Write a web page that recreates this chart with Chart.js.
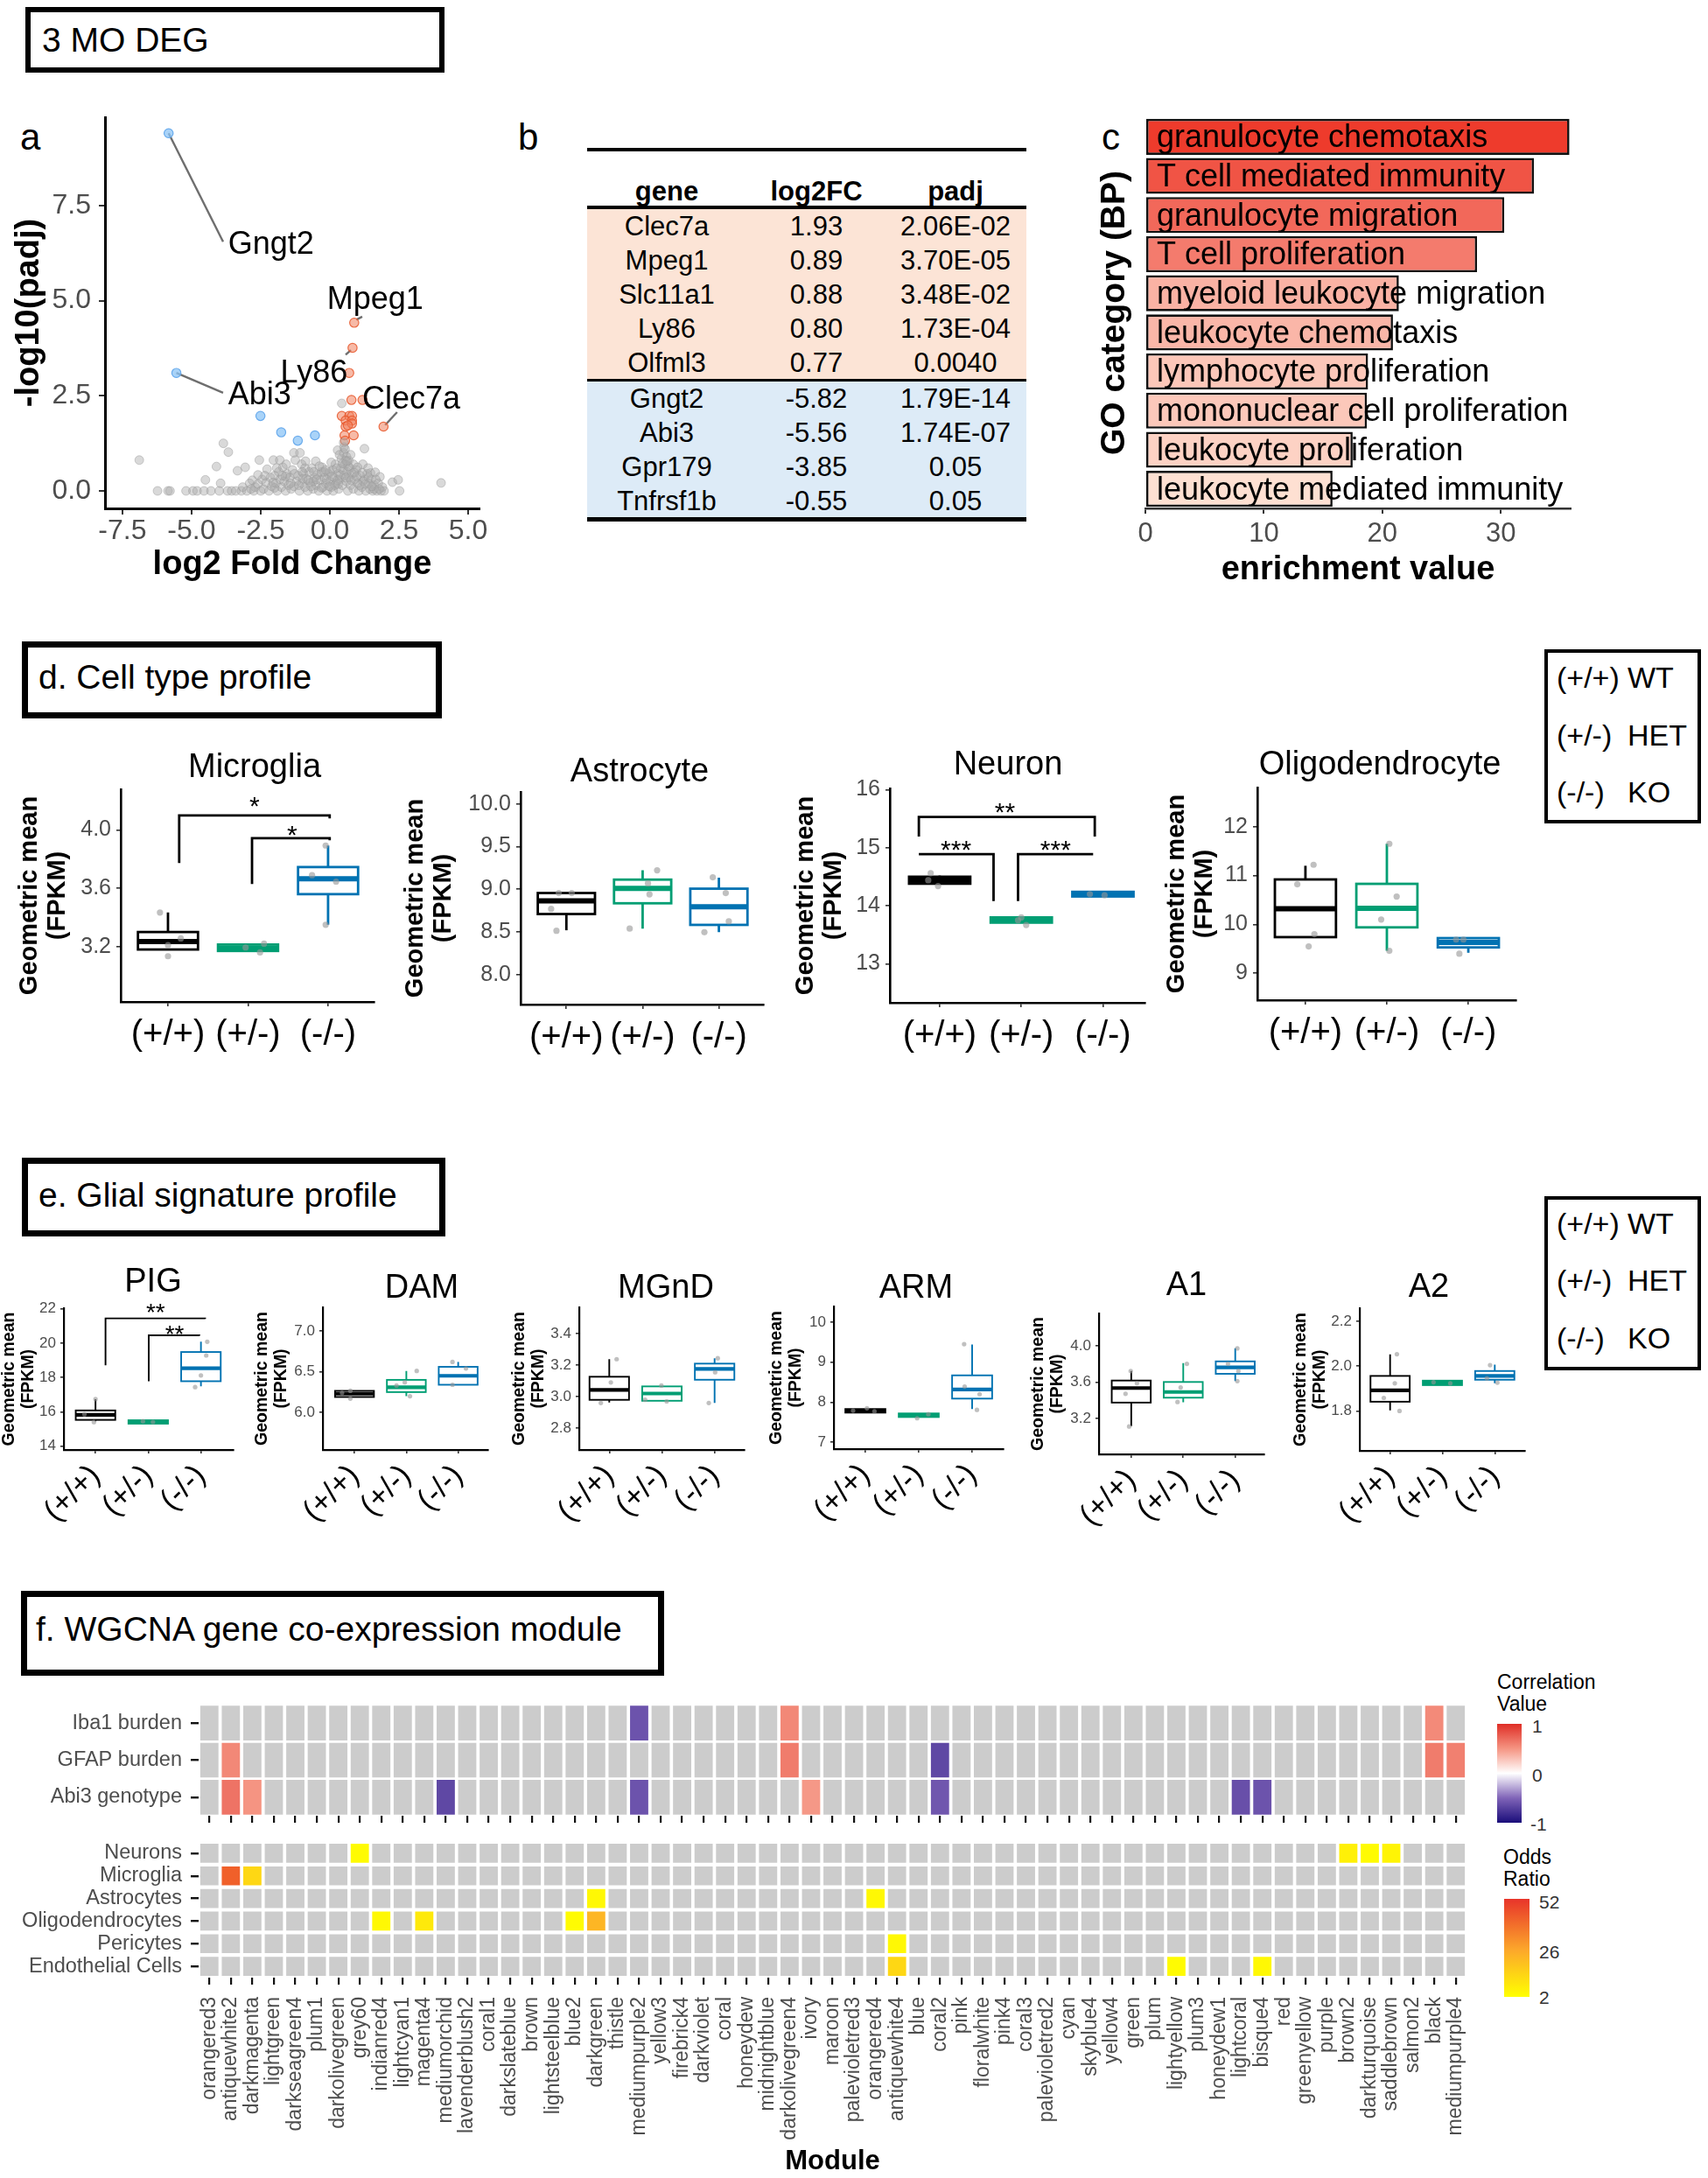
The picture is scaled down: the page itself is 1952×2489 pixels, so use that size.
<!DOCTYPE html>
<html>
<head>
<meta charset="utf-8">
<title>3 MO DEG</title>
<script src="https://cdn.jsdelivr.net/npm/chart.js@4.4.1/dist/chart.umd.min.js"></script>
<style>
  html, body { margin: 0; padding: 0; background: #fff; }
  body { position: relative; width: 1952px; height: 2489px; overflow: hidden; font-family: "Liberation Sans", Arial, sans-serif; color: #000; }
  .t { position: absolute; white-space: nowrap; line-height: 1; }
  .frame { position: absolute; box-sizing: border-box; border: 7px solid #000; }
  .blk { position: absolute; }
  canvas { position: absolute; }
</style>
</head>
<body>
<script>
// ---------------- data ----------------
// panel a: volcano (log2FC, -log10 padj)
const volcanoGray = [
  [-6.89,0.81],[-6.23,0],[-5.85,0],[-5.78,0],[-5.2,0],[-4.95,0],[-4.8,0],[-4.55,0],[-4.5,0.29],[-4.3,0],
  [-4.1,0.64],[-4.0,0],[-3.95,0.2],[-3.85,1.25],[-3.7,0],[-3.67,1.02],[-3.55,0],[-3.4,0],[-3.34,0.53],[-3.2,0],
  [-3.15,0.1],[-3.06,0.62],[-3.0,0],[-2.9,0.2],[-2.8,0.28],[-2.75,0],[-2.7,0.1],[-2.6,0.18],[-2.55,0.81],[-2.5,0],
  [-2.45,0.3],[-2.4,0.05],[-2.3,0.22],[-2.27,0.57],[-2.2,0],[-2.15,0.35],[-2.1,0.12],[-2.04,0.81],[-2.0,0.4],[-1.95,0.2],
  [-1.9,0],[-1.85,0.5],[-1.81,0.81],[-1.8,0.3],[-1.75,0.1],[-1.7,0.62],[-1.65,0.25],[-1.6,0],[-1.55,0.45],[-1.5,0.15],
  [-1.45,0.35],[-1.4,0.05],[-1.35,0.55],[-1.3,1.0],[-1.25,0.81],[-1.2,0.25],[-1.15,0.4],[-1.1,0],[-1.08,1.0],[-1.02,0.7],
  [-1.0,0.2],[-0.95,0.45],[-0.9,0.1],[-0.85,0.32],[-0.8,0],[-0.75,0.5],[-0.7,0.22],[-0.65,0.6],[-0.6,0.05],[-0.55,0.35],
  [-0.51,0.78],[-0.5,0.15],[-0.45,0.42],[-0.4,0],[-0.35,0.28],[-0.3,0.5],[-0.28,0.62],[-0.25,0.1],[-0.2,0.35],[-0.15,0.2],
  [-0.1,0],[-0.05,0.45],[0,0.25],[0.05,0.1],[0.1,0.55],[0.12,0],[0.15,0.35],[0.2,0.7],[0.22,0.2],[0.28,1.07],
  [0.3,0.45],[0.32,0.05],[0.35,0.3],[0.4,0.6],[0.42,0.85],[0.45,0.15],[0.5,1.0],[0.51,1.15],[0.52,0.4],[0.55,0.7],
  [0.57,0.8],[0.6,0.25],[0.62,0.5],[0.65,0],[0.68,0.8],[0.7,0.35],[0.72,0.6],[0.75,0.15],[0.8,0.45],[0.85,0.05],
  [0.9,0.3],[0.95,0.55],[1.0,0.2],[1.05,0],[1.1,0.4],[1.15,0.1],[1.19,0.7],[1.25,1.11],[1.25,0.3],[1.3,0],
  [1.35,0.45],[1.4,0.2],[1.45,0.05],[1.47,0.47],[1.5,0.3],[1.55,0],[1.6,0.15],[1.64,0.49],[1.7,0],[1.75,0.2],
  [1.81,0.37],[1.85,0],[1.9,0.1],[1.96,0],[2.26,0.23],[2.47,0.29],[2.52,0],[4.02,0.21],[0.43,2.3],[0.5,1.27],
  [0.55,1.1],[-1.6,0.38],[-1.3,0.12],[-0.9,0.6],[-0.6,0.25],[-0.3,0.08],[0.0,0.5],[0.25,0.6],[0.6,0.9],[0.75,0.95],
  [0.85,0.7],[1.0,0.62],[1.2,0.25],[1.4,0.35],[1.6,0.05],[-2.6,0.42],[-2.0,0.08],[-1.0,0.5],[0.05,0.75],[0.35,0.95],
  [-2.85,0.05],[-2.35,0.4],[-2.05,0.22],[-1.92,0.6],[-1.72,0.4],[-1.58,0.7],[-1.42,0.2],[-1.28,0.45],[-1.12,0.15],[-0.98,0.32],
  [-0.88,0.78],[-0.78,0.28],[-0.68,0.12],[-0.58,0.5],[-0.48,0.3],[-0.38,0.65],[-0.22,0.5],[-0.12,0.3],[-0.02,0.12],[0.08,0.38],
  [0.18,0.15],[0.27,0.28],[0.38,0.42],[0.48,0.55],[0.58,0.35],[0.66,0.65],[0.77,0.28],[0.88,0.48],[0.97,0.38],[1.08,0.15],
  [1.17,0.48],[1.28,0.18],[1.38,0.6],[1.52,0.12],[1.66,0.3],[1.78,0.05],[0.46,0.72],[0.62,0.78],[0.3,0.18],[-0.15,0.55]
];
const volcanoBlue = [[-5.83,9.40],[-5.55,3.10],[-2.51,1.97],[-1.76,1.54],[-1.16,1.32],[-0.54,1.46]];
const volcanoRed = [[0.88,4.42],[0.82,3.76],[0.70,3.10],[0.78,2.39],[1.18,2.39],[0.43,1.97],[0.70,1.97],[0.80,1.97],
  [0.57,1.85],[0.80,1.85],[0.57,1.69],[0.80,1.77],[0.53,1.46],[0.86,1.46],[0.55,1.32],[1.94,1.69],[0.65,1.72]];
const volcanoLabels = ['Gngt2', 'Abi3', 'Mpeg1', 'Ly86', 'Clec7a'];
const volcanoLabelAt = [[-3.68,6.45], [-3.68,2.50], [1.64,5.02], [-0.57,3.08], [2.94,2.38]];
const volcanoLeaders = [
  [[-5.83,9.40],[-3.86,6.55]], [[-5.55,3.10],[-3.86,2.58]], [[0.96,4.50],[1.17,4.58]],
  [[0.76,3.70],[0.57,3.58]], [[2.00,1.73],[2.43,2.07]]
];
const volcanoXTicks = [-7.5, -5.0, -2.5, 0.0, 2.5, 5.0];
const volcanoYTicks = [0.0, 2.5, 5.0, 7.5];

// panel b: table
const tableGenes = ['Clec7a','Mpeg1','Slc11a1','Ly86','Olfml3','Gngt2','Abi3','Gpr179','Tnfrsf1b'];
const tableLog2FC = ['1.93','0.89','0.88','0.80','0.77','-5.82','-5.56','-3.85','-0.55'];
const tablePadj = ['2.06E-02','3.70E-05','3.48E-02','1.73E-04','0.0040','1.79E-14','1.74E-07','0.05','0.05'];
const tableUpCount = 5;

// panel c: GO enrichment
const goTerms = ['granulocyte chemotaxis','T cell mediated immunity','granulocyte migration','T cell proliferation',
  'myeloid leukocyte migration','leukocyte chemotaxis','lymphocyte proliferation','mononuclear cell proliferation',
  'leukocyte proliferation','leukocyte mediated immunity'];
const goEnrichment = [35.8, 32.8, 30.3, 28.0, 21.4, 20.9, 18.8, 18.7, 17.5, 15.8];
const goTicks = [0, 10, 20, 30];

// panels d, e: boxplots (three genotypes)
const genotypes = ['(+/+)', '(+/-)', '(-/-)'];
const genotypeNames = ['WT', 'HET', 'KO'];

const microglia = { min:[3.175,3.17,3.35], q1:[3.18,3.17,3.56], med:[3.234,3.19,3.666], q3:[3.30,3.214,3.746], max:[3.434,3.214,3.894],
  pts:[[0.90,3.434],[1.16,3.256],[1.0,3.21],[1.0,3.134],[1.97,3.194],[2.20,3.22],[2.15,3.16],[2.97,3.894],[2.80,3.69],[3.10,3.646],[2.97,3.35]] };
const microgliaTicks = [3.2, 3.6, 4.0];
const microgliaBrackets = [[[1.14,3.774],[1.14,4.10],[3.02,4.10],[3.02,4.08]], [[2.05,3.63],[2.05,3.944],[3.02,3.944],[3.02,3.93]]];
const microgliaStars = [[2.08,4.21,'*'], [2.55,4.01,'*']];

const astrocyte = { min:[8.52,8.538,8.497], q1:[8.71,8.836,8.583], med:[8.863,9.01,8.795], q3:[8.956,9.113,9.007], max:[8.956,9.222,9.137],
  pts:[[0.90,8.956],[1.07,8.956],[0.80,8.77],[0.87,8.514],[2.19,9.222],[2.07,9.07],[2.09,8.94],[1.83,8.54],[2.92,9.14],[3.09,8.956],[3.13,8.624],[2.81,8.497]] };
const astrocyteTicks = [8.0, 8.5, 9.0, 9.5, 10.0];

const neuron = { min:[14.38,13.71,14.16], q1:[14.38,13.71,14.16], med:[14.44,13.75,14.20], q3:[14.50,13.80,14.24], max:[14.52,13.80,14.24],
  pts:[[0.89,14.56],[0.86,14.44],[0.98,14.34],[2.0,13.80],[2.06,13.67],[1.96,13.75],[2.84,14.20],[3.02,14.18]] };
const neuronTicks = [13, 14, 15, 16];
const neuronBrackets = [[[0.745,15.19],[0.745,15.53],[2.90,15.53],[2.90,15.19]], [[0.745,14.89],[1.66,14.89],[1.66,14.08]], [[1.96,14.08],[1.96,14.89],[2.88,14.89]]];
const neuronStars = [[1.80,15.73,'**'], [1.20,15.08,'***'], [2.42,15.08,'***']];

const oligodendrocyte = { min:[9.74,9.46,9.42], q1:[9.74,9.94,9.53], med:[10.32,10.33,9.63], q3:[10.92,10.83,9.72], max:[11.20,11.65,9.72],
  pts:[[1.10,11.22],[0.90,10.82],[1.11,9.80],[1.04,9.55],[2.03,11.65],[2.12,10.57],[1.93,10.10],[2.03,9.46],[2.85,9.69],[2.94,9.69],[2.89,9.40]] };
const oligodendrocyteTicks = [9, 10, 11, 12];

const pig = { min:[15.45,15.31,17.49], q1:[15.53,15.31,17.78], med:[15.82,15.41,18.54], q3:[16.08,15.51,19.48], max:[16.74,15.51,20.08],
  pts:[[0.79,15.86],[0.97,15.40],[1.0,16.74],[1.90,15.45],[2.09,15.41],[3.12,20.08],[3.10,19.28],[3.0,18.12],[2.89,17.44]] };
const pigTicks = [14, 16, 18, 20, 22];
const pigBrackets = [[[1.19,18.71],[1.19,21.44],[3.08,21.44],[3.08,21.40]], [[2.01,17.78],[2.01,20.45],[2.97,20.45],[2.97,20.42]]];
const pigStars = [[2.14,22.12,'**'], [2.50,20.89,'**']];

const dam = { min:[6.19,6.20,6.34], q1:[6.19,6.25,6.34], med:[6.23,6.31,6.45], q3:[6.265,6.40,6.56], max:[6.265,6.51,6.62],
  pts:[[0.76,6.24],[0.92,6.265],[0.92,6.17],[2.2,6.51],[1.97,6.37],[1.81,6.33],[2.07,6.20],[2.89,6.62],[3.15,6.54],[2.89,6.34]] };
const damTicks = [6.0, 6.5, 7.0];

const mgnd = { min:[2.963,2.974,2.96], q1:[2.98,2.974,3.107], med:[3.043,3.02,3.176], q3:[3.126,3.065,3.209], max:[3.237,3.067,3.243],
  pts:[[1.14,3.237],[1.03,3.09],[0.84,2.96],[1.99,3.07],[1.68,2.98],[2.09,2.97],[3.06,3.243],[3.01,3.154],[2.89,2.96]] };
const mgndTicks = [2.8, 3.0, 3.2, 3.4];

const arm = { min:[7.74,7.63,7.83], q1:[7.74,7.63,8.09], med:[7.79,7.68,8.32], q3:[7.83,7.72,8.67], max:[7.83,7.72,9.44],
  pts:[[0.77,7.79],[1.03,7.85],[1.17,7.77],[1.97,7.6],[2.18,7.7],[2.85,9.45],[2.86,8.39],[3.14,8.2],[3.09,7.81]] };
const armTicks = [7, 8, 9, 10];

const a1 = { min:[3.114,3.376,3.61], q1:[3.373,3.427,3.69], med:[3.533,3.49,3.76], q3:[3.616,3.6,3.827], max:[3.72,3.808,3.971],
  pts:[[0.99,3.72],[1.11,3.587],[0.89,3.47],[0.96,3.11],[2.07,3.80],[1.95,3.54],[1.89,3.38],[3.04,3.97],[2.86,3.80],[3.06,3.72],[3.04,3.61]] };
const a1Ticks = [3.2, 3.6, 4.0];

const a2 = { min:[1.802,1.915,1.923], q1:[1.841,1.915,1.939], med:[1.892,1.926,1.956], q3:[1.956,1.935,1.978], max:[2.052,1.935,2.006],
  pts:[[1.13,2.053],[1.09,1.923],[0.88,1.858],[1.18,1.80],[1.83,1.928],[2.15,1.923],[2.91,2.004],[2.85,1.945],[3.05,1.926]] };
const a2Ticks = [1.8, 2.0, 2.2];

// panel f: WGCNA modules
const modules = ['orangered3','antiquewhite2','darkmagenta','lightgreen','darkseagreen4','plum1','darkolivegreen','grey60',
  'indianred4','lightcyan1','magenta4','mediumorchid','lavenderblush2','coral1','darkslateblue','brown','lightsteelblue','blue2',
  'darkgreen','thistle','mediumpurple2','yellow3','firebrick4','darkviolet','coral','honeydew','midnightblue','darkolivegreen4',
  'ivory','maroon','palevioletred3','orangered4','antiquewhite4','blue','coral2','pink','floralwhite','pink4','coral3',
  'palevioletred2','cyan','skyblue4','yellow4','green','plum','lightyellow','plum3','honeydew1','lightcoral','bisque4','red',
  'greenyellow','purple','brown2','darkturquoise','saddlebrown','salmon2','black','mediumpurple4'];
const traitRows = ['Iba1 burden', 'GFAP burden', 'Abi3 genotype'];
const corrIba1 = { mediumpurple2: -0.6, darkolivegreen4: 0.56, black: 0.55 };
const corrGFAP = { antiquewhite2: 0.56, darkolivegreen4: 0.62, coral2: -0.66, black: 0.62, mediumpurple4: 0.6 };
const corrAbi3 = { antiquewhite2: 0.66, darkmagenta: 0.5, mediumorchid: -0.66, mediumpurple2: -0.6, ivory: 0.48,
  coral2: -0.58, lightcoral: -0.62, bisque4: -0.6 };
const cellRows = ['Neurons', 'Microglia', 'Astrocytes', 'Oligodendrocytes', 'Pericytes', 'Endothelial Cells'];
const oddsNeurons = { grey60: 3, brown2: 6, darkturquoise: 3, saddlebrown: 5 };
const oddsMicroglia = { antiquewhite2: 42, darkmagenta: 13 };
const oddsAstrocytes = { darkgreen: 4, orangered4: 4 };
const oddsOligodendrocytes = { indianred4: 4, magenta4: 8, blue2: 3, darkgreen: 22 };
const oddsPericytes = { antiquewhite4: 4 };
const oddsEndothelial = { antiquewhite4: 13, lightyellow: 3, bisque4: 4 };

// ---------------- helpers ----------------
Chart.defaults.animation = false;
Chart.defaults.responsive = false;
Chart.defaults.font.family = '"Liberation Sans", Arial, sans-serif';
Chart.defaults.plugins.legend.display = false;
Chart.defaults.plugins.tooltip.enabled = false;

const genoColors = ['#000000', '#009E73', '#0072B2'];
const GRAY_TXT = '#4D4D4D';

function hex(c) { return [1, 3, 5].map(i => parseInt(c.slice(i, i + 2), 16)); }
function mix(a, b, t) {
  const A = hex(a), B = hex(b);
  return 'rgb(' + A.map((v, i) => Math.round(v + (B[i] - v) * t)).join(',') + ')';
}
function ramp(stops, v) {
  if (v <= stops[0][0]) return mix(stops[0][1], stops[0][1], 0);
  for (let i = 1; i < stops.length; i++) {
    if (v <= stops[i][0]) return mix(stops[i - 1][1], stops[i][1], (v - stops[i - 1][0]) / (stops[i][0] - stops[i - 1][0]));
  }
  return mix(stops[stops.length - 1][1], stops[stops.length - 1][1], 0);
}
const corrStops = [[-1, '#1A0D7A'], [-0.5, '#8064B8'], [0, '#FFFFFF'], [0.5, '#F59482'], [1, '#DF2E26']];
const oddsStops = [[2, '#FFFF00'], [26, '#FCA72B'], [52, '#E8342A']];

function text(str, x, y, size, o = {}) {
  const d = document.createElement('div');
  d.className = 't';
  d.textContent = str;
  const tx = o.anchor === 'center' ? '-50%' : o.anchor === 'right' ? '-100%' : '0';
  d.style.left = x + 'px'; d.style.top = y + 'px';
  d.style.fontSize = size + 'px';
  d.style.fontWeight = o.bold ? 'bold' : 'normal';
  d.style.color = o.color || '#000';
  d.style.transform = `translate(${tx},-50%)`;
  document.body.appendChild(d);
}
function frame(l, t, w, h, bw) {
  const d = document.createElement('div');
  d.className = 'frame';
  d.style.cssText = `left:${l}px;top:${t}px;width:${w}px;height:${h}px;border-width:${bw}px`;
  document.body.appendChild(d);
}
function block(l, t, w, h, bg) {
  const d = document.createElement('div');
  d.className = 'blk';
  d.style.cssText = `left:${l}px;top:${t}px;width:${w}px;height:${h}px;background:${bg}`;
  document.body.appendChild(d);
}
function makeCanvas(area, m) {
  const left = Math.round(area.l - m.l), top = Math.round(area.t - m.t);
  const right = Math.round(area.r + m.r), bottom = Math.round(area.b + m.b);
  const c = document.createElement('canvas');
  c.width = right - left; c.height = bottom - top;
  c.style.left = left + 'px'; c.style.top = top + 'px';
  document.body.appendChild(c);
  return { c, ml: Math.round(area.l) - left, mt: Math.round(area.t) - top, mr: right - Math.round(area.r), mb: bottom - Math.round(area.b) };
}
const fixX = h => s => { s.height = h; s.paddingLeft = 0; s.paddingRight = 0; };
const fixY = w => s => { s.width = w; s.paddingTop = 0; s.paddingBottom = 0; };
const setTicks = vals => s => { s.ticks = vals.map(v => ({ value: v })); };
const pad = k => ({ left: 0, top: k.mt, right: k.mr, bottom: 0 });

// ---------------- headers, frames, legends ----------------
frame(29, 8, 479, 75, 6);
text('3 MO DEG', 48, 45, 39);
text('a', 23, 157, 42);
text('b', 592, 157, 42);
text('c', 1259, 157, 42);

frame(25, 733, 480, 88, 7);
text('d. Cell type profile', 44, 773, 39);
frame(25, 1323, 484, 90, 7);
text('e. Glial signature profile', 44, 1365, 39);
frame(24, 1818, 735, 97, 7);
text('f. WGCNA gene co-expression module', 41, 1861, 39);

function genotypeLegend(top, lines) {
  frame(1765, top, 179, 199, 4);
  genotypes.forEach((g, i) => {
    text(g, 1779, lines[i], 34);
    text(genotypeNames[i], 1860, lines[i], 34);
  });
}
genotypeLegend(742, [774, 840, 905]);
genotypeLegend(1367, [1398, 1463, 1529]);

// ---------------- panel a: volcano ----------------
(function () {
  const k = makeCanvas({ l: 120, r: 548, t: 134, b: 581 }, { l: 109, r: 16, t: 9, b: 87 });
  const pts = a => a.map(([x, y]) => ({ x, y }));
  const ds = [
    { data: pts(volcanoGray), pointRadius: 5, backgroundColor: 'rgba(170,170,170,0.45)', borderColor: 'rgba(150,150,150,0.45)', borderWidth: 1 },
    { data: pts(volcanoBlue), pointRadius: 5.2, backgroundColor: 'rgba(140,196,245,0.75)', borderColor: 'rgba(95,165,235,0.9)', borderWidth: 1.2 },
    { data: pts(volcanoRed), pointRadius: 5.2, backgroundColor: 'rgba(240,130,95,0.55)', borderColor: 'rgba(232,88,45,0.85)', borderWidth: 1.2 }
  ];
  volcanoLeaders.forEach(seg => ds.push({ data: pts(seg), showLine: true, pointRadius: 0, borderColor: '#6E6E6E', borderWidth: 2.4 }));
  new Chart(k.c, {
    type: 'scatter',
    data: { datasets: ds },
    options: {
      layout: { padding: pad(k) },
      scales: {
        x: { type: 'linear', min: -8.13, max: 5.41, afterBuildTicks: setTicks(volcanoXTicks), afterFit: fixX(k.mb),
          grid: { drawOnChartArea: false, tickLength: 7, color: '#333', lineWidth: 2 },
          border: { display: true, color: '#000', width: 3 },
          ticks: { padding: 0, color: GRAY_TXT, font: { size: 32 }, callback: v => v.toFixed(1) },
          title: { display: true, text: 'log2 Fold Change', color: '#000', font: { size: 38, weight: 'bold' }, padding: 0 } },
        y: { type: 'linear', min: -0.46, max: 9.82, afterBuildTicks: setTicks(volcanoYTicks), afterFit: fixY(k.ml),
          grid: { drawOnChartArea: false, tickLength: 7, color: '#333', lineWidth: 2 },
          border: { display: true, color: '#000', width: 3 },
          ticks: { padding: 9, color: GRAY_TXT, font: { size: 32 }, callback: v => v.toFixed(1) },
          title: { display: true, text: '-log10(padj)', color: '#000', font: { size: 38, weight: 'bold' }, padding: 0 } }
      }
    },
    plugins: [{
      id: 'geneLabels',
      afterDatasetsDraw(chart) {
        const { ctx, scales: { x, y } } = chart;
        ctx.save();
        ctx.font = '36px "Liberation Sans", Arial, sans-serif';
        ctx.fillStyle = '#000';
        ctx.textBaseline = 'middle';
        volcanoLabels.forEach((name, i) => {
          ctx.textAlign = i < 2 ? 'left' : 'center';
          ctx.fillText(name, x.getPixelForValue(volcanoLabelAt[i][0]), y.getPixelForValue(volcanoLabelAt[i][1]));
        });
        ctx.restore();
      }
    }]
  });
})();

// ---------------- panel b: table ----------------
(function () {
  const x0 = 671, x1 = 1173, colX = [762, 933, 1092], rowH = 38.8;
  const upTop = 239, downTop = upTop + tableUpCount * rowH + 3;
  block(x0, upTop, x1 - x0, tableUpCount * rowH, '#FCE4D6');
  block(x0, downTop, x1 - x0, (tableGenes.length - tableUpCount) * rowH, '#DDEBF7');
  block(x0, 169, x1 - x0, 4, '#000');
  block(x0, 235, x1 - x0, 4, '#000');
  block(x0, upTop + tableUpCount * rowH, x1 - x0, 3, '#000');
  block(x0, downTop + (tableGenes.length - tableUpCount) * rowH, x1 - x0, 5, '#000');
  ['gene', 'log2FC', 'padj'].forEach((h, j) => text(h, colX[j], 218, 31, { anchor: 'center', bold: true }));
  tableGenes.forEach((g, i) => {
    const yc = i < tableUpCount ? upTop + (i + 0.5) * rowH : downTop + (i - tableUpCount + 0.5) * rowH;
    [g, tableLog2FC[i], tablePadj[i]].forEach((v, j) => text(v, colX[j], yc, 31, { anchor: 'center' }));
  });
})();

// ---------------- panel c: GO enrichment ----------------
(function () {
  const k = makeCanvas({ l: 1309, r: 1795, t: 134, b: 581 }, { l: 58, r: 20, t: 10, b: 93 });
  const lo = Math.min(...goEnrichment), hi = Math.max(...goEnrichment);
  new Chart(k.c, {
    type: 'bar',
    data: { labels: goTerms, datasets: [{
      data: goEnrichment,
      backgroundColor: goEnrichment.map(v => mix('#FEE0D2', '#EE3B2C', (v - lo) / (hi - lo))),
      borderColor: '#111', borderWidth: 2.6, borderSkipped: false, barPercentage: 0.92, categoryPercentage: 1
    }] },
    options: {
      indexAxis: 'y',
      layout: { padding: pad(k) },
      scales: {
        x: { type: 'linear', min: 0, max: 35.9, afterBuildTicks: setTicks(goTicks), afterFit: fixX(k.mb),
          grid: { drawOnChartArea: false, tickLength: 6, color: '#333', lineWidth: 2 },
          border: { display: true, color: '#333', width: 2.5 },
          ticks: { padding: 5, color: GRAY_TXT, font: { size: 31 } },
          title: { display: true, text: 'enrichment value', color: '#000', font: { size: 38, weight: 'bold' }, padding: 0 } },
        y: { afterFit: fixY(k.ml), ticks: { display: false }, grid: { display: false }, border: { display: false },
          title: { display: true, text: 'GO category (BP)', color: '#000', font: { size: 39, weight: 'bold' }, padding: 0 } }
      }
    },
    plugins: [{
      id: 'termLabels',
      afterDatasetsDraw(chart) {
        const { ctx, chartArea, scales: { y } } = chart;
        ctx.save();
        ctx.font = '36px "Liberation Sans", Arial, sans-serif';
        ctx.fillStyle = '#000';
        ctx.textBaseline = 'middle';
        goTerms.forEach((t, i) => ctx.fillText(t, chartArea.left + 13, y.getPixelForValue(i) + 2));
        ctx.restore();
      }
    }]
  });
})();

// ---------------- panels d, e: boxplots ----------------
const styleD = { ySize: 29, tick: 25, tickPad: 6, tickLen: 5, xFont: 40, xRot: 0, xPad: 9, lw: 2.8, medLw: 6, ptR: 3.6, star: 30, axisW: 2.6, mb: 80 };
const styleE = { ySize: 19.5, tick: 17, tickPad: 5, tickLen: 4, xFont: 35, xRot: 45, xPad: 5, lw: 1.9, medLw: 4.2, ptR: 2.6, star: 28, axisW: 2.2, mb: 122 };

function boxChart(p, st) {
  const lh = st.ySize * 1.1;
  const k = makeCanvas(p.area, { l: p.area.l - (p.titleX - lh / 2), r: 12, t: 28, b: st.mb });
  text(p.title, p.head[0], p.head[1], 38, { anchor: 'center' });
  const g = p.data;
  const ds = [{ data: g.pts.map(([x, y]) => ({ x, y })), pointRadius: st.ptR, backgroundColor: 'rgba(150,150,150,0.6)', borderWidth: 0 }];
  (p.brackets || []).forEach(b => ds.push({ data: b.map(([x, y]) => ({ x, y })), showLine: true, pointRadius: 0, borderColor: '#000', borderWidth: st.lw, clip: false }));
  new Chart(k.c, {
    type: 'scatter',
    data: { datasets: ds },
    options: {
      layout: { padding: pad(k) },
      scales: {
        x: { type: 'linear', min: p.x[0], max: p.x[1], afterBuildTicks: setTicks([1, 2, 3]), afterFit: fixX(k.mb),
          grid: { drawOnChartArea: false, tickLength: st.tickLen, color: '#333', lineWidth: 1.6 },
          border: { display: true, color: '#000', width: st.axisW },
          ticks: { autoSkip: false, minRotation: st.xRot, maxRotation: st.xRot, padding: st.xPad, color: '#000', font: { size: st.xFont }, callback: v => genotypes[v - 1] } },
        y: { type: 'linear', min: p.y[0], max: p.y[1], afterBuildTicks: setTicks(p.ticks), afterFit: fixY(k.ml),
          grid: { drawOnChartArea: false, tickLength: st.tickLen, color: '#333', lineWidth: 1.6 },
          border: { display: true, color: '#000', width: st.axisW },
          ticks: { autoSkip: false, padding: st.tickPad, color: GRAY_TXT, font: { size: st.tick }, callback: v => v.toFixed(p.dec) },
          title: { display: true, text: ['Geometric mean', '(FPKM)'], color: '#000', font: { size: st.ySize, weight: 'bold', lineHeight: 1.1 }, padding: 0 } }
      }
    },
    plugins: [{
      id: 'boxes',
      beforeDatasetsDraw(chart) {
        const { ctx, scales: { x, y } } = chart;
        ctx.save();
        for (let i = 0; i < 3; i++) {
          const xc = x.getPixelForValue(i + 1);
          const hw = x.getPixelForValue(i + 1.375) - xc;
          const top = y.getPixelForValue(g.q3[i]), bot = y.getPixelForValue(g.q1[i]);
          ctx.strokeStyle = genoColors[i];
          ctx.lineWidth = st.lw;
          ctx.beginPath();
          ctx.moveTo(xc, y.getPixelForValue(g.max[i])); ctx.lineTo(xc, top);
          ctx.moveTo(xc, bot); ctx.lineTo(xc, y.getPixelForValue(g.min[i]));
          ctx.stroke();
          ctx.fillStyle = '#fff';
          ctx.fillRect(xc - hw, top, 2 * hw, bot - top);
          ctx.strokeRect(xc - hw, top, 2 * hw, bot - top);
          const ym = y.getPixelForValue(g.med[i]);
          ctx.lineWidth = st.medLw;
          ctx.beginPath();
          ctx.moveTo(xc - hw, ym); ctx.lineTo(xc + hw, ym);
          ctx.stroke();
        }
        ctx.restore();
      },
      afterDatasetsDraw(chart) {
        const { ctx, scales: { x, y } } = chart;
        ctx.save();
        ctx.font = st.star + 'px "Liberation Sans", Arial, sans-serif';
        ctx.fillStyle = '#000';
        ctx.textAlign = 'center';
        ctx.textBaseline = 'alphabetic';
        (p.stars || []).forEach(([sx, sy, s]) => ctx.fillText(s, x.getPixelForValue(sx), y.getPixelForValue(sy) + 0.58 * st.star));
        ctx.restore();
      }
    }]
  });
}

[
  { title: 'Microglia', data: microglia, ticks: microgliaTicks, dec: 1, brackets: microgliaBrackets, stars: microgliaStars,
    area: { l: 137.5, r: 428, t: 902, b: 1145 }, y: [2.82, 4.28], x: [0.41, 3.58], titleX: 34, head: [291, 875] },
  { title: 'Astrocyte', data: astrocyte, ticks: astrocyteTicks, dec: 1,
    area: { l: 595, r: 873, t: 905, b: 1148 }, y: [7.65, 10.14], x: [0.40, 3.59], titleX: 475, head: [731, 880] },
  { title: 'Neuron', data: neuron, ticks: neuronTicks, dec: 0, brackets: neuronBrackets, stars: neuronStars,
    area: { l: 1017, r: 1309, t: 901, b: 1146 }, y: [12.33, 16.02], x: [0.39, 3.52], titleX: 921, head: [1152, 872] },
  { title: 'Oligodendrocyte', data: oligodendrocyte, ticks: oligodendrocyteTicks, dec: 0,
    area: { l: 1437, r: 1733, t: 900, b: 1143 }, y: [8.45, 12.80], x: [0.41, 3.59], titleX: 1345, head: [1577, 872] }
].forEach(p => boxChart(p, styleD));

[
  { title: 'PIG', data: pig, ticks: pigTicks, dec: 0, brackets: pigBrackets, stars: pigStars,
    area: { l: 73, r: 267, t: 1495, b: 1657 }, y: [13.78, 22.03], x: [0.40, 3.62], titleX: 11, head: [175, 1463] },
  { title: 'DAM', data: dam, ticks: damTicks, dec: 1,
    area: { l: 369, r: 558, t: 1494, b: 1657 }, y: [5.54, 7.29], x: [0.39, 3.58], titleX: 300, head: [482, 1470] },
  { title: 'MGnD', data: mgnd, ticks: mgndTicks, dec: 1,
    area: { l: 662, r: 851, t: 1494, b: 1657 }, y: [2.663, 3.565], x: [0.43, 3.57], titleX: 594, head: [761, 1470] },
  { title: 'ARM', data: arm, ticks: armTicks, dec: 0,
    area: { l: 953, r: 1147, t: 1493, b: 1656 }, y: [6.83, 10.39], x: [0.41, 3.59], titleX: 888, head: [1047, 1470] },
  { title: 'A1', data: a1, ticks: a1Ticks, dec: 1,
    area: { l: 1256, r: 1445, t: 1501, b: 1662 }, y: [2.803, 4.355], x: [0.38, 3.56], titleX: 1187, head: [1356, 1467] },
  { title: 'A2', data: a2, ticks: a2Ticks, dec: 1,
    area: { l: 1554, r: 1743, t: 1495, b: 1658 }, y: [1.622, 2.258], x: [0.42, 3.58], titleX: 1487, head: [1633, 1469] }
].forEach(p => boxChart(p, styleE));

// ---------------- panel f: heatmaps ----------------
function heatmap(area, m, rows, values, colorOf, o) {
  const k = makeCanvas(area, m);
  new Chart(k.c, {
    type: 'bar',
    data: {
      labels: modules,
      datasets: rows.map((name, r) => ({
        data: modules.map(() => [r - 0.5, r + 0.5]),
        backgroundColor: modules.map(mod => values[r][mod] === undefined ? '#CCCCCC' : colorOf(values[r][mod])),
        borderColor: '#fff',
        borderWidth: { left: 2.2, right: 2.2, top: o.vgap, bottom: o.vgap },
        borderSkipped: false, barPercentage: 1, categoryPercentage: 1, grouped: false
      }))
    },
    options: {
      layout: { padding: pad(k) },
      scales: {
        x: { offset: true, afterFit: fixX(k.mb),
          grid: { display: true, drawOnChartArea: false, tickLength: 8, color: '#111', lineWidth: 2.2, offset: false },
          border: { display: false },
          ticks: { autoSkip: false, minRotation: 90, maxRotation: 90, padding: o.labelPad, color: GRAY_TXT, font: { size: 23 },
            callback: o.showLabels ? (v, i) => modules[i] : () => '' },
          title: o.title ? { display: true, text: o.title, color: '#000', font: { size: 31, weight: 'bold' }, padding: 0 } : { display: false } },
        y: { type: 'linear', reverse: true, min: -0.5, max: rows.length - 0.5, afterBuildTicks: setTicks(rows.map((_, i) => i)), afterFit: fixY(k.ml),
          grid: { drawOnChartArea: false, tickLength: 9, color: '#111', lineWidth: 2.4 },
          border: { display: false },
          ticks: { autoSkip: false, padding: 10, color: GRAY_TXT, font: { size: 23.5 }, callback: v => rows[v] } }
      }
    }
  });
}
heatmap({ l: 226.5, r: 1675.5, t: 1948, b: 2075 }, { l: 210, r: 5, t: 4, b: 14 }, traitRows,
  [corrIba1, corrGFAP, corrAbi3], v => ramp(corrStops, v), { vgap: 1.7, labelPad: 0, showLabels: false });
heatmap({ l: 226.5, r: 1675.5, t: 2105, b: 2260 }, { l: 222, r: 5, t: 2, b: 229 }, cellRows,
  [oddsNeurons, oddsMicroglia, oddsAstrocytes, oddsOligodendrocytes, oddsPericytes, oddsEndothelial],
  v => ramp(oddsStops, v), { vgap: 2.4, labelPad: 14, showLabels: true, title: 'Module' });

// colour bar legends
text('Correlation', 1711, 1922, 23);
text('Value', 1711, 1947, 23);
block(1711, 1970, 28, 113, 'linear-gradient(to bottom,#DF2E26 0%,#F59482 25%,#FFFFFF 50%,#8064B8 75%,#1A0D7A 100%)');
text('1', 1751, 1972, 21, { color: '#333' });
text('0', 1751, 2028, 21, { color: '#333' });
text('-1', 1749, 2084, 21, { color: '#333' });

text('Odds', 1718, 2122, 23);
text('Ratio', 1718, 2147, 23);
block(1719, 2170, 29, 112, 'linear-gradient(to bottom,#E8342A 0%,#FCA72B 52%,#FFFF00 100%)');
text('52', 1759, 2173, 21, { color: '#333' });
text('26', 1759, 2230, 21, { color: '#333' });
text('2', 1759, 2282, 21, { color: '#333' });
</script>
</body>
</html>
